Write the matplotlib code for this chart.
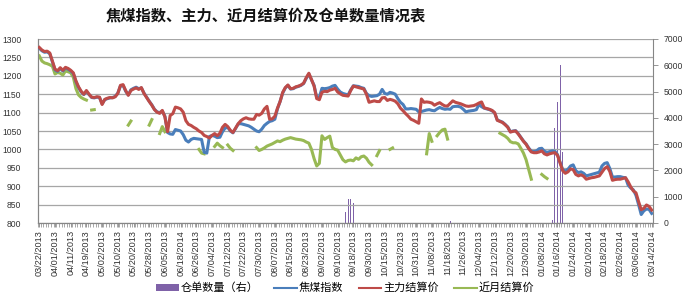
import numpy as np
import matplotlib
matplotlib.use("Agg")
import matplotlib.pyplot as plt
from matplotlib.patches import Patch
from matplotlib.lines import Line2D

nan = np.nan

tick_labels = ["03/22/2013", "04/01/2013", "04/11/2013", "04/19/2013", "05/02/2013", "05/10/2013",
               "05/20/2013", "05/28/2013", "06/05/2013", "06/18/2014", "06/26/2013", "07/04/2013",
               "07/12/2013", "07/22/2013", "07/30/2013", "08/07/2013", "08/15/2013", "08/23/2013",
               "09/02/2013", "09/10/2013", "09/18/2013", "09/30/2013", "10/15/2013", "10/23/2013",
               "10/31/2013", "11/08/2013", "11/18/2013", "11/26/2013", "12/04/2013", "12/12/2013",
               "12/20/2013", "12/30/2013", "01/08/2014", "01/16/2014", "01/24/2014", "02/10/2014",
               "02/18/2014", "02/26/2014", "03/06/2014", "03/14/2014"]

main_settle = [
    1277, 1270, 1266, 1267, 1262, 1240, 1218, 1214, 1222, 1215, 1223, 1220, 1215, 1208, 1186, 1170,
    1158, 1150, 1160, 1150, 1142, 1141, 1143, 1142, 1122, 1136, 1139, 1141, 1140, 1143, 1152, 1174,
    1176, 1160, 1147, 1160, 1164, 1167, 1163, 1168, 1152, 1141, 1130, 1120, 1108, 1101, 1098, 1106,
    1088, 1048, 1092, 1097, 1115, 1113, 1110, 1101, 1078, 1068, 1065, 1060, 1056, 1050, 1046, 1038,
    1035, 1031, 1038, 1043, 1037, 1044, 1060, 1068, 1062, 1052, 1046, 1058, 1070, 1078, 1083, 1086,
    1083, 1082, 1082, 1095, 1093, 1098, 1110, 1117, 1082, 1083, 1090, 1112, 1130, 1155, 1168, 1175,
    1165, 1166, 1170, 1172, 1175, 1180, 1195, 1207, 1190, 1172, 1138, 1135, 1155, 1158, 1157, 1161,
    1163, 1166, 1156, 1151, 1147, 1146, 1145, 1160, 1172, 1170, 1168, 1166, 1164, 1150, 1128, 1130,
    1132, 1130, 1130, 1140, 1141, 1133, 1136, 1134, 1131, 1124, 1112, 1105, 1097, 1090, 1082, 1079,
    1075, 1071, 1137, 1128, 1129, 1128, 1126, 1120, 1124, 1127, 1122, 1118, 1118, 1125, 1132, 1128,
    1126, 1124, 1121, 1118, 1117, 1118, 1119, 1122, 1126, 1129, 1113, 1111, 1109, 1106, 1100, 1079,
    1076, 1073, 1067, 1060, 1047, 1049, 1050, 1042, 1032, 1022, 1014, 1002, 993, 991, 991, 993,
    996, 988, 985, 988, 990, 991, 984, 963, 942, 935, 939, 947, 945, 932, 928, 931,
    927, 919, 921, 923, 924, 926, 928, 938, 948, 953, 940, 916, 918, 919, 919, 921,
    923, 912, 898, 887, 882, 858, 836, 840, 849, 845, 835]

coke_index = [
    1275, 1268, 1264, 1265, 1260, 1238, 1216, 1212, 1220, 1213, 1221, 1218, 1213, 1206, 1184, 1168,
    1156, 1149, 1158, 1149, 1141, 1140, 1142, 1141, 1124, 1135, 1138, 1140, 1141, 1144, 1153, 1172,
    1174, 1158, 1148, 1162, 1166, 1169, 1165, 1167, 1153, 1142, 1131, 1121, 1109, 1102, 1100, 1104,
    1090, 1046, 1042, 1041, 1054, 1052, 1050, 1040, 1025, 1020, 1027, 1030, 1029, 1028, 1027, 992,
    990, 1035, 1038, 1036, 1032, 1033, 1048, 1058, 1060, 1050, 1045, 1057, 1069, 1070, 1068, 1066,
    1064, 1060, 1055, 1050, 1048, 1055, 1065, 1071, 1076, 1078, 1082, 1110, 1130, 1153, 1167, 1174,
    1164, 1165, 1169, 1171, 1174, 1179, 1193, 1205, 1189, 1174, 1141, 1142, 1166, 1165, 1166, 1168,
    1172, 1174, 1164, 1156, 1152, 1150, 1148, 1162, 1173, 1172, 1171, 1168, 1166, 1152, 1146, 1144,
    1145, 1146, 1150, 1163, 1152, 1150, 1155, 1153, 1150, 1138, 1128, 1122, 1110, 1110, 1111, 1110,
    1109, 1102, 1103, 1105, 1107, 1108, 1106, 1105, 1110, 1114, 1111, 1109, 1110, 1109, 1116, 1117,
    1117, 1115, 1109, 1102, 1104, 1105, 1106, 1108, 1122, 1116, 1112, 1110, 1108, 1105, 1099, 1080,
    1077, 1074, 1068, 1061, 1048, 1050, 1051, 1043, 1033, 1023, 1015, 1004, 995, 994, 996, 1002,
    1003, 995, 992, 994, 996, 995, 986, 965, 945, 941, 946, 955, 958, 942, 937, 939,
    935, 928, 930, 932, 934, 936, 938, 955, 962, 964, 948, 925, 925, 926, 926, 924,
    923, 903, 895, 890, 875, 850, 823, 833, 838, 837, 826]

near_settle = [
    1254, 1240, 1235, 1233, 1230, 1226, 1205, 1209, 1207, 1202, 1213, 1211, 1208, 1196, 1165, 1148,
    1141, 1137, 1134, nan, 1107, 1108, nan, nan, nan, nan, nan, nan, nan, nan, nan, nan,
    nan, nan, 1066, 1077, nan, nan, nan, nan, nan, nan, 1066, 1081, nan, nan, 1043, 1062,
    1048, nan, nan, nan, nan, nan, nan, nan, nan, nan, nan, nan, nan, 1000, 990, 988,
    nan, nan, nan, 1008, 1017, 1010, 1005, nan, 1012, 1003, 997, nan, nan, nan, nan, nan,
    nan, nan, nan, 1005, 997, 1000, 1004, 1009, 1012, 1015, 1019, 1023, 1021, 1025, 1028, 1030,
    1032, 1030, 1028, 1027, 1026, 1024, 1020, 1017, 1000, 975, 955, 962, 1037, 1027, 1032, 1036,
    1005, 1000, 998, 985, 972, 966, 970, 971, 969, 977, 973, 980, 982, 976, 965, 958,
    nan, 983, 997, nan, nan, nan, 1000, 1004, nan, nan, nan, nan, nan, nan, nan, nan,
    nan, nan, nan, nan, 988, 1043, 1022, nan, 1037, 1046, 1053, 1055, 1028, nan, nan, nan,
    nan, nan, nan, nan, nan, nan, nan, nan, nan, nan, nan, nan, nan, nan, nan, nan,
    1044, 1040, 1036, 1030, 1021, 1018, 1018, 1015, 1003, 990, 972, 945, 919, nan, nan, nan,
    932, 926, 921, nan, nan, nan, nan, nan, nan, nan, nan, nan, nan, nan, nan, nan,
    nan, nan, nan, nan, nan, nan, nan, nan, nan, nan, nan, nan, nan, nan, nan, nan,
    nan, nan, nan, nan, nan, nan, nan, nan, nan, nan, nan]

receipt_idx = [117, 118, 119, 120, 157, 196, 197, 198, 199, 200]
receipt_val = [400, 920, 920, 750, 80, 120, 3600, 4600, 6000, 2700]

n = len(main_settle)
x = np.arange(n)
receipts = np.zeros(n)
for i, v in zip(receipt_idx, receipt_val):
    receipts[i] = v

plt.rcParams['font.family'] = ['Noto Sans CJK SC', 'DejaVu Sans']

fig = plt.figure(figsize=(6.91, 2.96), dpi=100)
ax = fig.add_axes([38/691, 1-223/296, (653-38)/691, (223-39)/296])
ax2 = ax.twinx()

C_BLUE = '#4A7EBB'
C_RED = '#BE4B48'
C_GREEN = '#98B954'
C_PURPLE = '#7F62A8'
C_GRID = '#A6A6A6'
C_AX = '#868686'

ax2.bar(x, receipts, width=0.45, color=C_PURPLE, zorder=1)
ax2.set_ylim(0, 7000)
ax2.set_yticks(range(0, 7001, 1000))

ax.set_zorder(ax2.get_zorder() + 1)
ax.patch.set_visible(False)

ax.plot(x, coke_index, color=C_BLUE, lw=2.2, solid_joinstyle='round', zorder=3)
ax.plot(x, main_settle, color=C_RED, lw=2.2, solid_joinstyle='round', zorder=4)
ax.plot(x, near_settle, color=C_GREEN, lw=2.2, solid_joinstyle='round', zorder=2)

ax.set_xlim(-0.5, n - 0.5)
ax.set_ylim(800, 1300)
ax.set_yticks(range(800, 1301, 50))
ax.grid(axis='y', color=C_GRID, lw=0.9, zorder=0)
ax.set_axisbelow(True)

ax.set_xticks(np.arange(0, n, 6))
ax.set_xticklabels(tick_labels, rotation=90, fontsize=6.6, family='Liberation Sans', color='#333333')
ax.set_xticks(np.arange(-0.5, n, 1), minor=True)
ax.tick_params(axis='x', which='major', length=3, width=0.6, color=C_AX, pad=2)
ax.tick_params(axis='x', which='minor', length=3, width=0.5, color=C_AX)
ax.tick_params(axis='y', length=0, pad=12, labelsize=6.2, labelcolor='#333333')
for lbl in ax.get_yticklabels():
    lbl.set_family('Liberation Sans')
ax2.tick_params(axis='y', length=3.5, width=0.6, color=C_AX, pad=4, labelsize=6.2, labelcolor='#333333')
for lbl in ax2.get_yticklabels():
    lbl.set_family('Liberation Sans')

for a in (ax, ax2):
    a.spines['top'].set_visible(False)
    for s in ('left', 'right', 'bottom'):
        a.spines[s].set_color(C_AX)
        a.spines[s].set_linewidth(0.8)
ax.spines['right'].set_visible(False)

fig.text(0.385, 1 - 15/296, '焦煤指数、主力、近月结算价及仓单数量情况表', ha='center', va='center',
         fontsize=11, fontweight='bold', color='#111111')

handles = [Patch(facecolor=C_PURPLE, edgecolor='none'),
           Line2D([], [], color=C_BLUE, lw=1.5),
           Line2D([], [], color=C_RED, lw=1.5),
           Line2D([], [], color=C_GREEN, lw=1.5)]
labels = ['仓单数量（右）', '焦煤指数', '主力结算价', '近月结算价']
fig.legend(handles, labels, loc='center', bbox_to_anchor=(0.5, 1 - 288/296), ncol=4,
           frameon=False, fontsize=8, handlelength=2.0, handleheight=0.5,
           handletextpad=0.2, columnspacing=1.4, borderpad=0)

fig.savefig('out.png', dpi=100)
